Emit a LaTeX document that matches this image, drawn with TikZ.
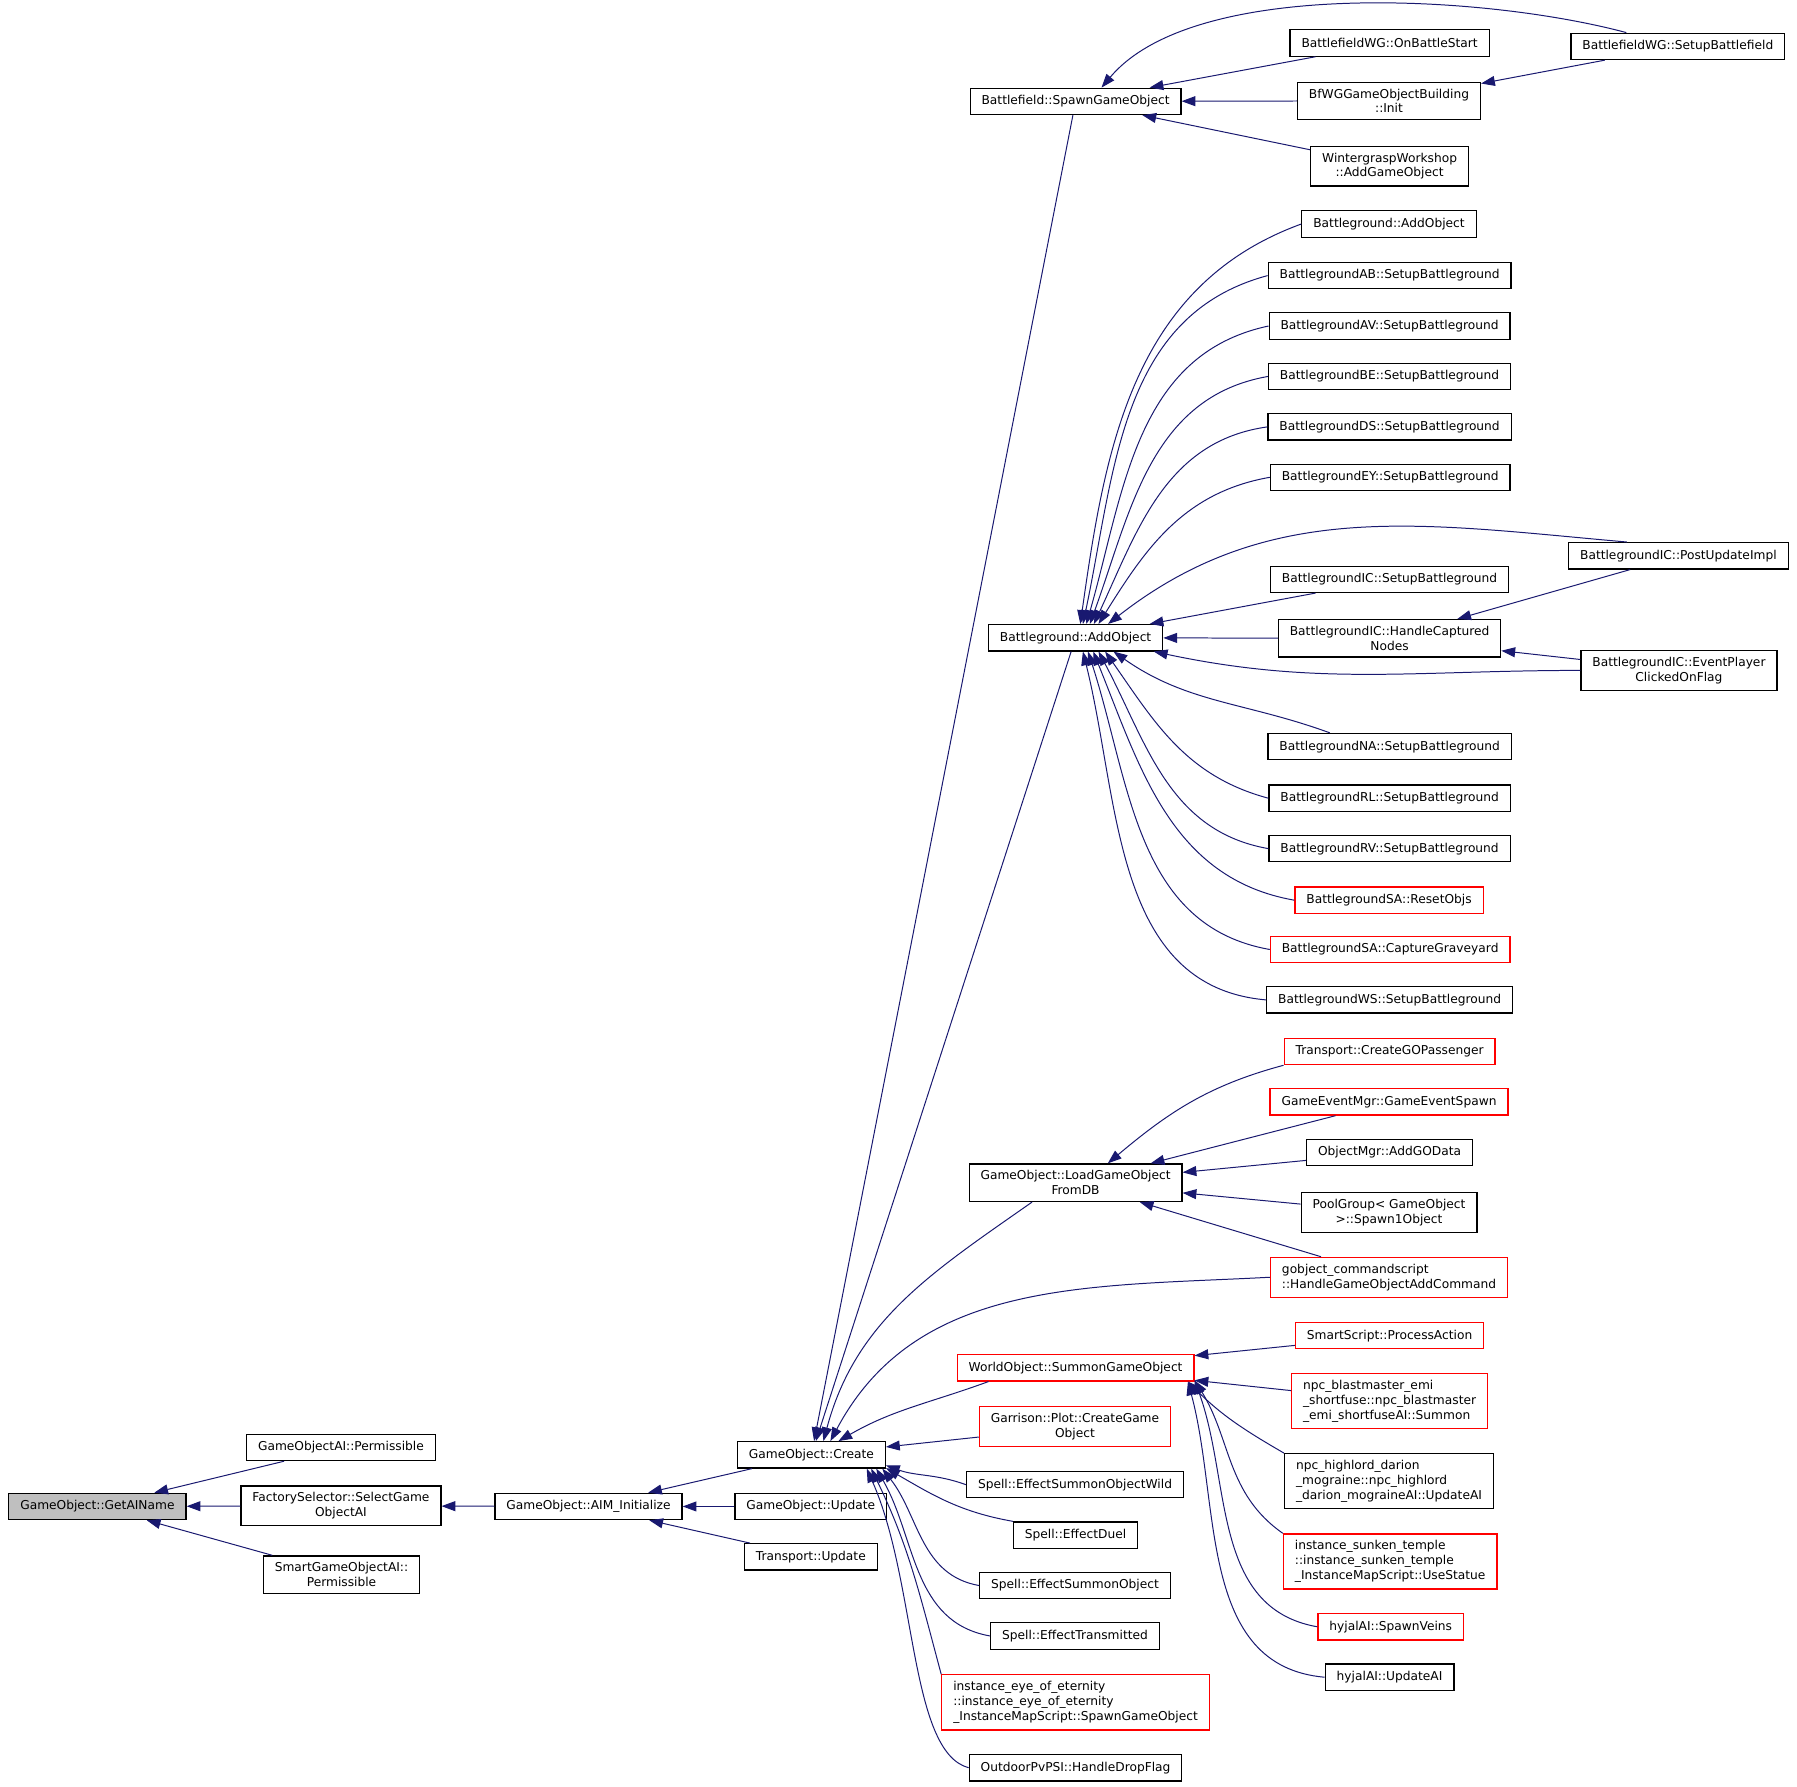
\documentclass[tikz,border=0pt]{standalone}
\usepackage{fontspec}
\setmainfont{DejaVu Sans}
\usetikzlibrary{arrows.meta}
\definecolor{edgeblue}{RGB}{25,25,112}
\definecolor{startgray}{RGB}{191,191,191}

\begin{document}
\begin{tikzpicture}[
      x=0.75pt,
      y=0.75pt,
      myfunc/.style={
         rectangle,
         draw=black,
         line width=0.8pt,
         fill=white,
         inner xsep=7.5pt,
         inner ysep=4.3pt,
         minimum height=17.25pt,
         align=center,
         font=\fontsize{8}{9.75}\selectfont},
      myredfunc/.style={myfunc,draw=red},
      mystart/.style={myfunc,fill=startgray},
      myleft/.style={align=left},
      myarrow/.style={-{Triangle[length=9pt,width=6.5pt]},draw=edgeblue,line width=0.65pt},
      ]
      \fill[white] (0,0) rectangle (1568,1559);
      \useasboundingbox (0,0) rectangle (1568,1559);
      \node[mystart] (getai) at (85,244.5) {GameObject::GetAIName};
      \node[myfunc] (goaiperm) at (297.5,296) {GameObjectAI::Permissible};
      \node[myfunc] (factsel) at (297.5,245) {FactorySelector::SelectGame\\ObjectAI};
      \node[myfunc] (smartperm) at (298,185) {SmartGameObjectAI::\\Permissible};
      \node[myfunc] (aiminit) at (513.5,244.5) {GameObject::AIM\_Initialize};
      \node[myfunc] (gocreate) at (708,289.5) {GameObject::Create};
      \node[myfunc] (goupdate) at (707.5,244.5) {GameObject::Update};
      \node[myfunc] (trupdate) at (707.5,200.5) {Transport::Update};
      \node[myfunc] (bfspawn) at (938.5,1470.5) {Battlefield::SpawnGameObject};
      \node[myfunc] (bgaddobj) at (938.5,1002.5) {Battleground::AddObject};
      \node[myfunc] (goload) at (938.5,527) {GameObject::LoadGameObject\\FromDB};
      \node[myredfunc] (wosummon) at (938.5,365.5) {WorldObject::SummonGameObject};
      \node[myredfunc] (garplot) at (938,314) {Garrison::Plot::CreateGame\\Object};
      \node[myfunc] (effwild) at (938,263.5) {Spell::EffectSummonObjectWild};
      \node[myfunc] (effduel) at (938.5,219.5) {Spell::EffectDuel};
      \node[myfunc] (effsummon) at (938,175.5) {Spell::EffectSummonObject};
      \node[myfunc] (efftrans) at (938,131.5) {Spell::EffectTransmitted};
      \node[myredfunc,myleft] (eyeofet) at (938.5,73.5) {instance\_eye\_of\_eternity\\::instance\_eye\_of\_eternity\\\_InstanceMapScript::SpawnGameObject};
      \node[myfunc] (pvpsi) at (938.5,16.5) {OutdoorPvPSI::HandleDropFlag};
      \node[myfunc] (bwgstart) at (1212.5,1521.5) {BattlefieldWG::OnBattleStart};
      \node[myfunc] (bwginit) at (1212,1471) {BfWGGameObjectBuilding\\::Init};
      \node[myfunc] (wgwork) at (1212.5,1414) {WintergraspWorkshop\\::AddGameObject};
      \node[myfunc] (bgaddobjb) at (1212,1363.5) {Battleground::AddObject};
      \node[myfunc] (bgab) at (1212.5,1318.5) {BattlegroundAB::SetupBattleground};
      \node[myfunc] (bgav) at (1212.5,1274.5) {BattlegroundAV::SetupBattleground};
      \node[myfunc] (bgbe) at (1212.5,1230.5) {BattlegroundBE::SetupBattleground};
      \node[myfunc] (bgds) at (1212.5,1186.5) {BattlegroundDS::SetupBattleground};
      \node[myfunc] (bgey) at (1213,1142.5) {BattlegroundEY::SetupBattleground};
      \node[myfunc] (bgicsetup) at (1212.5,1053.5) {BattlegroundIC::SetupBattleground};
      \node[myfunc] (bgiccapt) at (1212.5,1002) {BattlegroundIC::HandleCaptured\\Nodes};
      \node[myfunc] (bgna) at (1212.5,907.5) {BattlegroundNA::SetupBattleground};
      \node[myfunc] (bgrl) at (1212.5,862.5) {BattlegroundRL::SetupBattleground};
      \node[myfunc] (bgrv) at (1212.5,818.5) {BattlegroundRV::SetupBattleground};
      \node[myredfunc] (bgsareset) at (1212,773.5) {BattlegroundSA::ResetObjs};
      \node[myredfunc] (bgsacapt) at (1213,730.5) {BattlegroundSA::CaptureGraveyard};
      \node[myfunc] (bgws) at (1212.5,686.5) {BattlegroundWS::SetupBattleground};
      \node[myredfunc] (trpass) at (1212.5,641.5) {Transport::CreateGOPassenger};
      \node[myredfunc] (gemspawn) at (1212,597.5) {GameEventMgr::GameEventSpawn};
      \node[myfunc] (omgoadd) at (1212.5,553.5) {ObjectMgr::AddGOData};
      \node[myfunc] (poolspawn) at (1212,501) {PoolGroup< GameObject\\>::Spawn1Object};
      \node[myredfunc,myleft] (gocmd) at (1212,444.5) {gobject\_commandscript\\::HandleGameObjectAddCommand};
      \node[myredfunc] (ssproc) at (1212.5,393.5) {SmartScript::ProcessAction};
      \node[myredfunc,myleft] (npcblast) at (1212.5,336.5) {npc\_blastmaster\_emi\\\_shortfuse::npc\_blastmaster\\\_emi\_shortfuseAI::Summon};
      \node[myfunc,myleft] (npchigh) at (1212,266.5) {npc\_highlord\_darion\\\_mograine::npc\_highlord\\\_darion\_mograineAI::UpdateAI};
      \node[myredfunc,myleft] (stemple) at (1213,196.5) {instance\_sunken\_temple\\::instance\_sunken\_temple\\\_InstanceMapScript::UseStatue};
      \node[myredfunc] (hyjveins) at (1213.5,139.5) {hyjalAI::SpawnVeins};
      \node[myfunc] (hyjupd) at (1212.5,95.5) {hyjalAI::UpdateAI};
      \node[myfunc] (bwgsetup) at (1464,1518.5) {BattlefieldWG::SetupBattlefield};
      \node[myfunc] (bgicpost) at (1464.5,1074) {BattlegroundIC::PostUpdateImpl};
      \node[myfunc] (bgicflag) at (1465,974) {BattlegroundIC::EventPlayer\\ClickedOnFlag};
    \foreach \i/\j in {
      goaiperm/getai,
      factsel/getai,
      smartperm/getai,
      aiminit/factsel,
      gocreate/aiminit,
      goupdate/aiminit,
      trupdate/aiminit,
      bfspawn/gocreate,
      bgaddobj/gocreate,
      garplot/gocreate,
      bwgstart/bfspawn,
      bwginit/bfspawn,
      wgwork/bfspawn,
      bwgsetup/bwginit,
      bgicsetup/bgaddobj,
      bgiccapt/bgaddobj,
      bgicpost/bgiccapt,
      bgicflag/bgiccapt,
      gemspawn/goload,
      omgoadd/goload,
      poolspawn/goload,
      gocmd/goload,
      ssproc/wosummon,
      npcblast/wosummon}
       \draw [myarrow] (\i) -- (\j);
    \foreach \i/\j/\o/\n in {
      goload.-156/gocreate.49/215/75,
      gocmd.west/gocreate.36/183/62,
      wosummon.-171/gocreate.27/200/30,
      effwild.west/gocreate.-8/160/-20,
      effduel.north west/gocreate.-10.5/170/-30,
      effsummon.west/gocreate.-11.5/170/-52,
      efftrans.west/gocreate.-12.5/170/-60,
      eyeofet.north west/gocreate.-13.5/105/-64,
      bgaddobjb.west/bgaddobj.71/200/82,
      bgab.west/bgaddobj.62/195/78,
      bgav.west/bgaddobj.52/192/74,
      bgbe.west/bgaddobj.44/190/70,
      bgds.west/bgaddobj.37.5/188/65,
      bgey.west/bgaddobj.31/190/58,
      bgicpost.165/bgaddobj.23/175/38,
      bgicflag.west/bgaddobj.-10.5/180/-12,
      bgna.167.5/bgaddobj.-20/160/-35,
      bgrl.west/bgaddobj.-25/165/-55,
      bgrv.west/bgaddobj.-31/170/-62,
      bgsareset.west/bgaddobj.-38/170/-68,
      bgsacapt.west/bgaddobj.-48/170/-72,
      bgws.west/bgaddobj.-62/175/-76,
      trpass.south west/goload.31/195/40,
      npchigh.north west/wosummon.-7/150/-45,
      stemple.north west/wosummon.-6.6/145/-58,
      hyjveins.west/wosummon.-6.9/170/-70,
      hyjupd.west/wosummon.-7.2/175/-75}
       \draw [myarrow] (\i) to[out=\o,in=\n] (\j);
    \draw [myarrow] (pvpsi.west) to[out=165,in=-66,out looseness=0.5] (gocreate.-14);
    \draw [myarrow] (bwgsetup.165) to[out=165,in=50,looseness=0.7] (bfspawn.28);
\end{tikzpicture}
\end{document}
